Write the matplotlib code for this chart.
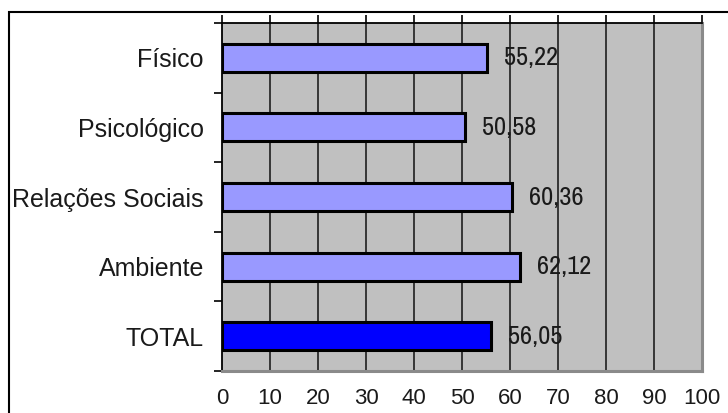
import matplotlib
matplotlib.use("Agg")
import matplotlib.pyplot as plt
from matplotlib.patches import Rectangle

categorias = ["Físico", "Psicológico", "Relações Sociais", "Ambiente", "TOTAL"]
valores = [55.22, 50.58, 60.36, 62.12, 56.05]
rotulos = ["55,22", "50,58", "60,36", "62,12", "56,05"]
cores = ["#9999ff", "#9999ff", "#9999ff", "#9999ff", "#0000ff"]
xticks = [0, 10, 20, 30, 40, 50, 60, 70, 80, 90, 100]

plt.rcParams["font.family"] = ["Liberation Sans", "DejaVu Sans"]
fonte_rotulo = ["Archivo Narrow", "Liberation Sans", "DejaVu Sans"]

W, H = 728, 413
fig = plt.figure(figsize=(W / 100, H / 100), dpi=100)
ax = fig.add_axes([222 / W, 1 - 371 / H, (702 - 222) / W, (371 - 23) / H])

y = list(range(len(categorias)))
ax.barh(y, valores, height=0.40, color=cores, edgecolor="black", linewidth=2.2, zorder=3)
for yi, v, r in zip(y, valores, rotulos):
    ax.text(v + 3.6, yi, r, va="center", ha="left", fontsize=19,
            family=fonte_rotulo, color="#1a1a1a", zorder=4)

ax.set_xlim(0, 100)
ax.set_ylim(len(categorias) - 0.5, -0.5)
ax.set_facecolor("#c0c0c0")
for xv in xticks[1:-1]:
    ax.axvline(xv, color="#111111", linewidth=1.1, zorder=1)

# categorias no eixo esquerdo, marcas nas divisões
ax.set_yticks(y)
ax.set_yticklabels(categorias, fontsize=18, color="#1a1a1a")
ax.set_yticks([i - 0.5 for i in range(len(categorias) + 1)], minor=True)
ax.tick_params(axis="y", which="major", length=0, pad=13)
ax.tick_params(axis="y", which="minor", length=6, width=1.2, direction="out")

# marcas no topo, rótulos embaixo
ax.set_xticks(xticks)
ax.set_xticklabels([str(t) for t in xticks], fontsize=16, color="#1a1a1a")
ax.tick_params(axis="x", which="major", top=True, bottom=False, length=6, width=1.2,
               direction="out", pad=6)

ax.spines["top"].set_color("black")
ax.spines["top"].set_linewidth(1.3)
ax.spines["left"].set_color("black")
ax.spines["left"].set_linewidth(1.3)
ax.spines["right"].set_color("#8a8a8a")
ax.spines["right"].set_linewidth(2.2)
ax.spines["bottom"].set_color("#8a8a8a")
ax.spines["bottom"].set_linewidth(2.2)

# moldura externa
fig.patches.append(Rectangle((9 / W, -0.05), 1.0, 1 - 12 / H + 0.05,
                             transform=fig.transFigure, fill=False,
                             edgecolor="black", linewidth=1.5))

fig.savefig("out.png", dpi=100)
